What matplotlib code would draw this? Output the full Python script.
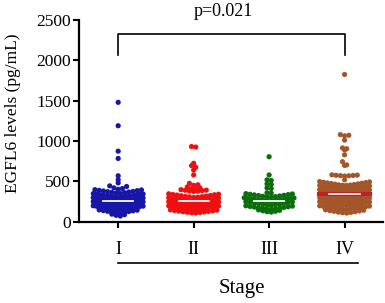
import numpy as np
import matplotlib
matplotlib.use("Agg")
from matplotlib import pyplot as plt

plt.rcParams['font.family'] = ['Liberation Serif', 'DejaVu Serif']

# EGFL6 levels (pg/mL) per stage
stages = ["I", "II", "III", "IV"]
colors = ["#1616a8", "#ee1010", "#0a6e0a", "#a4562a"]

stage_i = [1480, 1190, 875, 785, 570, 520, 482, 445, 438, 420, 412, 402,
           398, 395, 390, 386, 382, 376, 373, 369, 364, 361, 356, 351,
           349, 345, 343, 340, 336, 333, 331, 327, 324, 319, 317, 313, 310, 308, 304, 301,
           299, 296, 292, 290, 288, 284, 280, 279, 275, 271, 269, 266, 262, 260, 258, 255, 252, 251,
           249, 247, 242, 240, 238, 233, 231, 229, 224, 221, 220, 215, 212, 210, 207, 204, 203, 201,
           199, 194, 192, 189, 185, 183, 178, 176, 173, 169, 167, 162, 160, 156, 154, 151,
           147, 144, 138, 136, 130, 127, 121, 118, 110, 104,
           95, 88, 80, 71]

stage_ii = [932, 926, 725, 696, 676, 641, 580, 476, 458, 452, 432, 421, 410,
            403, 398, 392, 390, 386, 383, 379, 375,
            347, 342, 338, 335, 331, 326, 323, 318, 314, 311, 309, 305, 302,
            299, 296, 294, 291, 288, 285, 283, 280, 277, 274, 272, 269, 266, 264, 261, 258, 256, 254, 252, 251,
            249, 246, 244, 241, 238, 236, 233, 230, 228, 225, 222, 220, 217, 214, 212, 209, 207, 205, 203, 201,
            198, 195, 192, 189, 186, 183, 180, 176, 173, 170, 167, 164, 161, 158, 155, 152,
            148, 144, 140, 136, 132, 128, 125, 121, 118, 115, 112, 110]

stage_iii = [806, 580, 520, 512, 470, 462, 420, 412,
             360, 355, 349, 345, 341, 337, 333, 328, 325, 320, 316, 312, 308, 304,
             298, 295, 292, 289, 286, 283, 280, 277, 273, 270, 267, 264, 261, 258, 255, 252,
             248, 244, 240, 236, 232, 228, 224, 220, 216, 212, 208, 204,
             198, 194, 190, 186, 182, 178, 174, 170, 166, 162, 158, 154,
             148, 142, 136, 130, 125, 120]

stage_iv = [1825, 1080, 1072, 1065, 1012, 915, 905, 890, 830, 745, 705, 698,
            582, 578, 574, 570, 567, 572, 576, 520,
            498, 494, 490, 486, 482, 478, 474, 470, 466, 462, 458, 455, 452, 451,
            449, 446, 443, 440, 436, 433, 430, 426, 423, 420, 416, 413, 410, 407, 404, 401,
            399, 396, 393, 390, 386, 383, 380, 376, 373, 370, 366, 363, 360, 357, 354, 351,
            349, 346, 343, 340, 336, 333, 330, 326, 323, 320, 316, 313, 310, 307, 304, 301,
            299, 296, 293, 290, 286, 283, 280, 276, 273, 270, 266, 263, 260, 257, 254, 251,
            249, 246, 243, 240, 236, 233, 230, 226, 223, 220, 216, 213, 210, 207, 204, 201,
            198, 194, 190, 186, 183, 180, 176, 172, 169, 166, 162, 158, 155, 152,
            148, 143, 138, 134, 130, 125, 120, 116, 112, 108]

groups = [stage_i, stage_ii, stage_iii, stage_iv]


def swarm_x(vals, center, bin_h=50, step=0.056, half=0.33):
    # graphpad-like rows: lowest value of each row in the middle, going outward
    vals = np.asarray(vals, float)
    xs = np.empty_like(vals)
    bins = np.floor(vals / bin_h).astype(int)
    for b in np.unique(bins):
        idx = np.where(bins == b)[0]
        idx = idx[np.argsort(vals[idx])]
        n = len(idx)
        s = step if n < 2 else min(step, 2 * half / (n - 1))
        for k, i in enumerate(idx):
            if n % 2:
                off = ((k + 1) // 2) * (1 if k % 2 else -1)
            else:
                off = (k // 2 + 0.5) * (1 if k % 2 == 0 else -1)
            xs[i] = center + off * s
    return xs


fig = plt.figure(figsize=(3.85, 3.03), dpi=100)
ax = fig.add_axes([0.205, 0.268, 0.79, 0.666])

for i, (vals, c) in enumerate(zip(groups, colors)):
    x = swarm_x(vals, i)
    ax.scatter(x, vals, s=14, color=c, edgecolors='none', zorder=3)
    med = np.median(vals)
    if i < 3:
        ax.plot([i - 0.2, i + 0.2], [med, med], color='white', lw=1.3, zorder=4)
    else:
        ax.plot([i - 0.34, i + 0.34], [med, med], color='#c0202a', lw=3.0, zorder=4)
        ax.plot([i - 0.21, i + 0.21], [med, med], color='white', lw=1.2, zorder=5)

ax.set_xlim(-0.52, 3.51)
ax.set_ylim(0, 2500)
ax.set_yticks(np.arange(0, 2501, 500))
ax.set_xticks(range(4))
ax.set_xticklabels(stages, fontsize=13)
ax.tick_params(axis='y', labelsize=12.5, length=4.5, width=1.5, pad=1)
ax.tick_params(axis='x', length=4.5, width=1.5, pad=9)
for side in ['top', 'right']:
    ax.spines[side].set_visible(False)
for side in ['left', 'bottom']:
    ax.spines[side].set_linewidth(1.6)

ax.set_ylabel("EGFL6 levels (pg/mL)", fontsize=12.5)
ax.yaxis.set_label_coords(-0.19, 0.54)

# significance bracket
ax.plot([0, 0, 3, 3], [2070, 2330, 2330, 2070], color='black', lw=1.2, clip_on=False)
ax.text(1.39, 2610, "p=0.021", ha='center', va='center', fontsize=13, clip_on=False)

# line and title under the stage labels
tr = ax.get_xaxis_transform()
ax.plot([0, 3.18], [-0.205, -0.205], color='black', lw=1.2, transform=tr, clip_on=False)
ax.text(1.64, -0.33, "Stage", transform=tr, ha='center', va='center', fontsize=15)

fig.savefig("out.png", dpi=100)
